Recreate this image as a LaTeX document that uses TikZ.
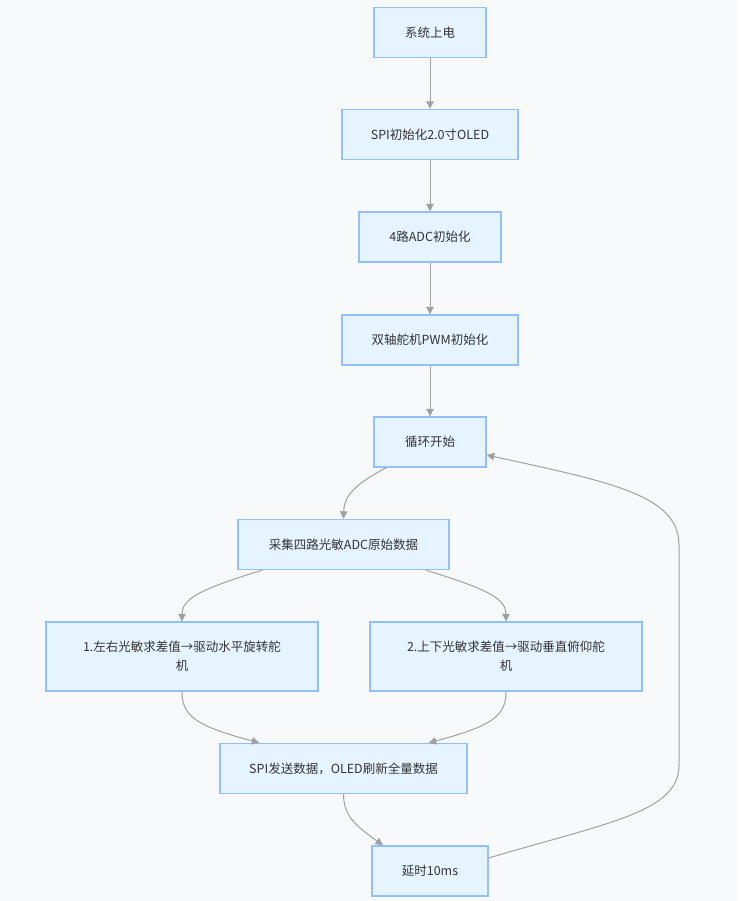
\documentclass[tikz,border=0pt]{standalone}
\usepackage{fontspec}
\setmainfont{Noto Sans CJK SC}
\usetikzlibrary{arrows.meta,positioning}
\definecolor{paper}{HTML}{F8F9FB}
\definecolor{boxfill}{HTML}{E6F4FF}
\definecolor{boxline}{HTML}{92C0FF}
\definecolor{wire}{HTML}{A0A0A0}
\definecolor{ink}{HTML}{333333}
\tikzset{
  >={Triangle[length=7.5pt,width=7.5pt]},
  stepbox/.style={draw=boxline,fill=boxfill,line width=1.4pt,text=ink,
    minimum height=50pt,minimum width=#1,align=center,
    font=\fontsize{12.5}{19}\selectfont,inner sep=0pt},
  stepbox/.default=112pt,
  flow/.style={->,draw=wire,line width=1pt},
}
\begin{document}
\begin{tikzpicture}[x=1pt,y=-1pt]
  \fill[paper] (0,0) rectangle (738,901);
  \useasboundingbox (0,0) rectangle (738,901);
  \node[stepbox=112pt] (power) at (430,32.5) {系统上电};
  \node[stepbox=176pt] (oled) at (430,134.5) {SPI初始化2.0寸OLED};
  \node[stepbox=142pt] (adc) at (430,237) {4路ADC初始化};
  \node[stepbox=176pt] (pwm) at (430,340) {双轴舵机PWM初始化};
  \node[stepbox=112pt] (loop) at (430,442) {循环开始};
  \node[stepbox=211pt] (sample) at (343.5,544.5) {采集四路光敏ADC原始数据};
  \node[stepbox=272pt,minimum height=69pt] (yaw) at (182,656.5) {1.左右光敏求差值→驱动水平旋转舵\\机};
  \node[stepbox=272pt,minimum height=69pt] (pitch) at (506,656.5) {2.上下光敏求差值→驱动垂直俯仰舵\\机};
  \node[stepbox=247pt] (send) at (343.5,768.5) {SPI发送数据，OLED刷新全量数据};
  \node[stepbox=116pt] (delay) at (430,871) {延时10ms};
  % init chain
  \draw[flow] (power) -- (oled);
  \draw[flow] (oled) -- (adc);
  \draw[flow] (adc) -- (pwm);
  \draw[flow] (pwm) -- (loop);
  % main loop
  \draw[flow] ([xshift=13pt]loop.south west) .. controls (355,484) and (344,496) .. (sample.north);
  \draw[flow] ([xshift=25pt]sample.south west) .. controls (200,589) and (182,599) .. (yaw.north);
  \draw[flow] ([xshift=-24pt]sample.south east) .. controls (488,589) and (506,599) .. (pitch.north);
  \draw[flow] (yaw.south) .. controls (182,716) and (196,726) .. ([xshift=40pt]send.north west);
  \draw[flow] (pitch.south) .. controls (506,716) and (492,726) .. ([xshift=-39pt]send.north east);
  \draw[flow] (send.south) .. controls (343.5,816) and (356,826) .. ([xshift=-47pt]delay.north);
  \draw[flow] ([yshift=13pt]delay.east) .. controls (610,822) and (679,812) .. (679,765)
    -- (679,545) .. controls (679,495) and (610,482) .. ([yshift=-13pt]loop.east);
\end{tikzpicture}
\end{document}
